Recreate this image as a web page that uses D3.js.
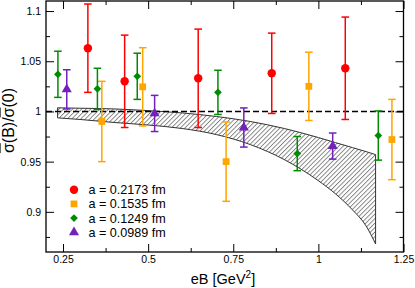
<!DOCTYPE html>
<html>
<head>
<meta charset="utf-8">
<script src="https://cdn.jsdelivr.net/npm/d3@7"></script>
<style>
  body { margin: 0; background: #fff; }
  svg text { font-family: "Liberation Sans", Arial, sans-serif; fill: #000; }
</style>
</head>
<body>
<svg id="chart" width="415" height="288"></svg>
<script>
// data
const redX = [0.323, 0.431, 0.647, 0.863, 1.079];
const redY = [1.063, 1.030, 1.033, 1.038, 1.043];
const redE = [0.044, 0.046, 0.049, 0.040, 0.051];

const orangeX = [0.364, 0.484, 0.729, 0.972, 1.216];
const orangeY = [0.990, 1.0245, 0.950, 1.025, 0.972];
const orangeE = [0.040, 0.039, 0.0395, 0.034, 0.040];

const greenX = [0.235, 0.351, 0.468, 0.705, 0.938, 1.176];
const greenY = [1.037, 1.0225, 1.035, 1.019, 0.958, 0.976];
const greenE = [0.023, 0.0205, 0.023, 0.022, 0.017, 0.0245];

const purpleX = [0.261, 0.519, 0.781, 1.042];
const purpleY = [1.022, 0.998, 0.984, 0.9655];
const purpleE = [0.0195, 0.018, 0.0195, 0.013];

// continuum band
const bandX  = [0.234, 0.30, 0.40, 0.50, 0.60, 0.70, 0.80, 0.90, 1.00, 1.05, 1.10, 1.14, 1.168];
const bandHi = [1.0036, 1.0032, 1.0025, 1.0008, 0.9985, 0.995, 0.990, 0.983, 0.974, 0.969, 0.964, 0.960, 0.957];
const bandLo = [0.9936, 0.992, 0.989, 0.9865, 0.983, 0.977, 0.967, 0.952, 0.931, 0.918, 0.902, 0.886, 0.868];

const labels = ["a = 0.2173 fm", "a = 0.1535 fm", "a = 0.1249 fm", "a = 0.0989 fm"];

const xTicks = [0.25, 0.5, 0.75, 1, 1.25];
const xMinor = [0.375, 0.625, 0.875, 1.125];
const yTicks = [0.9, 0.95, 1, 1.05, 1.1];
const yMinor = [0.875, 0.925, 0.975, 1.025, 1.075];

const config = {
  left: 46, right: 403.5, top: 1, bottom: 252
};

const svg = d3.select("#chart");

const xScale = d3.scaleLinear().domain([0.2, 1.25]).range([config.left, config.right]);
const yScale = d3.scaleLinear().domain([0.86, 1.11]).range([config.bottom, config.top]);

// hatch pattern
const defs = svg.append("defs");
defs.append("pattern")
    .attr("id", "hatch")
    .attr("patternUnits", "userSpaceOnUse")
    .attr("width", 3.2)
    .attr("height", 10)
    .attr("patternTransform", "rotate(45)")
  .append("line")
    .attr("x1", 0.5).attr("y1", 0)
    .attr("x2", 0.5).attr("y2", 10)
    .attr("stroke", "#444")
    .attr("stroke-width", 0.7);

const bandData = bandX.map((x, i) => ({ x: x, lo: bandLo[i], hi: bandHi[i] }));

const area = d3.area()
    .x(d => xScale(d.x))
    .y0(d => yScale(d.lo))
    .y1(d => yScale(d.hi))
    .curve(d3.curveMonotoneX);

svg.append("path")
    .datum(bandData)
    .attr("d", area)
    .attr("fill", "url(#hatch)")
    .attr("stroke", "#333")
    .attr("stroke-width", 1);

// dashed line at 1
svg.append("line")
    .attr("x1", config.left).attr("x2", config.right)
    .attr("y1", yScale(1)).attr("y2", yScale(1))
    .attr("stroke", "#000")
    .attr("stroke-width", 1.5)
    .attr("stroke-dasharray", "6,3");

const series = [
  { xs: redX, ys: redY, es: redE, color: "#ff0000", symbol: d3.symbolCircle, size: 56, rot: 0 },
  { xs: orangeX, ys: orangeY, es: orangeE, color: "#ffa500", symbol: d3.symbolSquare, size: 46, rot: 0 },
  { xs: greenX, ys: greenY, es: greenE, color: "#008b00", symbol: d3.symbolSquare, size: 30, rot: 45 },
  { xs: purpleX, ys: purpleY, es: purpleE, color: "#7221bc", symbol: d3.symbolTriangle, size: 44, rot: 0 }
];

const capW = 3.8;

series.forEach(s => {
  const pts = s.xs.map((x, i) => ({ x: x, y: s.ys[i], e: s.es[i] }));
  const g = svg.append("g");

  const bars = g.selectAll(".err")
    .data(pts)
    .join("g")
    .attr("stroke", s.color)
    .attr("stroke-width", 1.5);

  bars.append("line")
    .attr("x1", d => xScale(d.x)).attr("x2", d => xScale(d.x))
    .attr("y1", d => yScale(d.y + d.e)).attr("y2", d => yScale(d.y - d.e));
  bars.append("line")
    .attr("x1", d => xScale(d.x) - capW).attr("x2", d => xScale(d.x) + capW)
    .attr("y1", d => yScale(d.y + d.e)).attr("y2", d => yScale(d.y + d.e));
  bars.append("line")
    .attr("x1", d => xScale(d.x) - capW).attr("x2", d => xScale(d.x) + capW)
    .attr("y1", d => yScale(d.y - d.e)).attr("y2", d => yScale(d.y - d.e));

  g.selectAll(".mark")
    .data(pts)
    .join("path")
    .attr("d", d3.symbol(s.symbol, s.size))
    .attr("transform", d => `translate(${xScale(d.x)},${yScale(d.y)}) rotate(${s.rot})`)
    .attr("fill", s.color);
});

// axes, ticks inward on all sides
const axisBottom = d3.axisBottom(xScale).tickValues(xTicks).tickSize(-8).tickPadding(4).tickFormat(d => d);
const axisBottomMinor = d3.axisBottom(xScale).tickValues(xMinor).tickSize(-4).tickFormat("");
const axisTop = d3.axisTop(xScale).tickValues(xTicks).tickSize(-8).tickFormat("");
const axisTopMinor = d3.axisTop(xScale).tickValues(xMinor).tickSize(-4).tickFormat("");
const axisLeft = d3.axisLeft(yScale).tickValues(yTicks).tickSize(-8).tickPadding(5).tickFormat(d => d);
const axisLeftMinor = d3.axisLeft(yScale).tickValues(yMinor).tickSize(-4).tickFormat("");
const axisRight = d3.axisRight(yScale).tickValues(yTicks).tickSize(-8).tickFormat("");
const axisRightMinor = d3.axisRight(yScale).tickValues(yMinor).tickSize(-4).tickFormat("");

function drawAxis(axis, tr) {
  const g = svg.append("g").attr("transform", tr).call(axis);
  g.attr("font-family", null);
  g.select(".domain").remove();
  g.selectAll(".tick line").attr("stroke", "#000").attr("stroke-width", 1);
  g.selectAll(".tick text")
    .attr("font-size", "10.5px")
    .attr("fill", "#000");
  return g;
}

drawAxis(axisBottom, `translate(0,${config.bottom})`);
drawAxis(axisBottomMinor, `translate(0,${config.bottom})`);
drawAxis(axisTop, `translate(0,${config.top})`);
drawAxis(axisTopMinor, `translate(0,${config.top})`);
drawAxis(axisLeft, `translate(${config.left},0)`);
drawAxis(axisLeftMinor, `translate(${config.left},0)`);
drawAxis(axisRight, `translate(${config.right},0)`);
drawAxis(axisRightMinor, `translate(${config.right},0)`);

svg.append("rect")
    .attr("x", config.left).attr("y", config.top)
    .attr("width", config.right - config.left)
    .attr("height", config.bottom - config.top)
    .attr("fill", "none")
    .attr("stroke", "#000")
    .attr("stroke-width", 1.3);

// axis titles
const xt = svg.append("text")
    .attr("x", 223).attr("y", 284)
    .attr("text-anchor", "middle")
    .attr("font-size", "14.5px");
xt.append("tspan").text("eB [GeV");
xt.append("tspan").attr("font-size", "10px").attr("dy", -6).text("2");
xt.append("tspan").attr("dy", 6).text("]");

const yt = svg.append("text")
    .attr("transform", "translate(14,120.5) rotate(-90)")
    .attr("text-anchor", "middle")
    .attr("font-size", "16px");
yt.append("tspan").style("text-decoration", "overline").text("σ");
yt.append("tspan").text("(B)/");
yt.append("tspan").style("text-decoration", "overline").text("σ");
yt.append("tspan").text("(0)");

// legend
const legend = svg.append("g");
series.forEach((s, i) => {
  const ly = 189.7 + i * 14.2;
  legend.append("path")
    .attr("d", d3.symbol(s.symbol, s.size))
    .attr("transform", `translate(74,${ly}) rotate(${s.rot})`)
    .attr("fill", s.color);
  legend.append("text")
    .attr("x", 88.5).attr("y", ly)
    .attr("dy", "0.35em")
    .attr("font-size", "12.6px")
    .text(labels[i]);
});
</script>
</body>
</html>
